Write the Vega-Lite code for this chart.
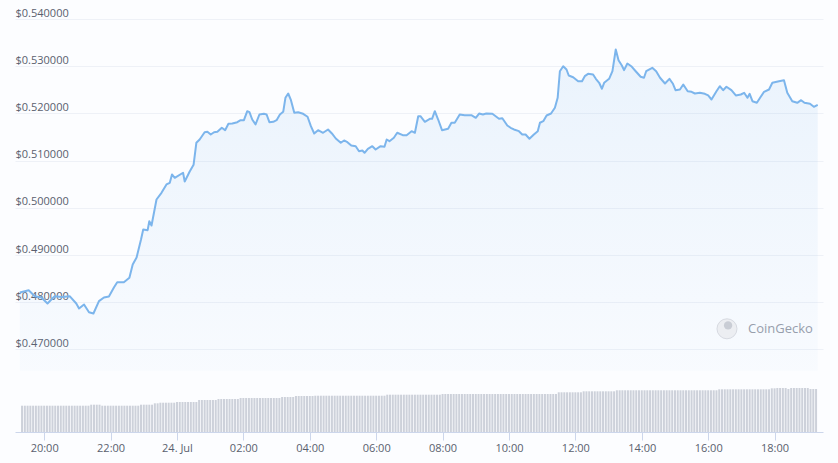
{
  "$schema": "https://vega.github.io/schema/vega-lite/v6.json",
  "width": 808,
  "height": 413,
  "autosize": {"type": "none"},
  "padding": {"left": 15, "top": 19, "right": 15, "bottom": 31},
  "background": "#fcfdff",
  "config": {"view": {"stroke": null}, "font": "Open Sans"},
  "datasets": {
    "price": [
      {"t":"2023-07-23T19:16Z","p":0.48207},{"t":"2023-07-23T19:25Z","p":0.48235},{"t":"2023-07-23T19:32Z","p":0.48256},{"t":"2023-07-23T19:43Z","p":0.48129},{"t":"2023-07-23T19:55Z","p":0.48101},{"t":"2023-07-23T20:06Z","p":0.47974},{"t":"2023-07-23T20:13Z","p":0.48059},{"t":"2023-07-23T20:19Z","p":0.48129},{"t":"2023-07-23T20:32Z","p":0.4811},{"t":"2023-07-23T20:46Z","p":0.48129},{"t":"2023-07-23T20:58Z","p":0.47974},{"t":"2023-07-23T21:03Z","p":0.47868},{"t":"2023-07-23T21:12Z","p":0.47953},{"t":"2023-07-23T21:21Z","p":0.4779},{"t":"2023-07-23T21:29Z","p":0.47762},{"t":"2023-07-23T21:39Z","p":0.48023},{"t":"2023-07-23T21:48Z","p":0.48101},{"t":"2023-07-23T21:57Z","p":0.48123},{"t":"2023-07-23T22:06Z","p":0.48313},{"t":"2023-07-23T22:12Z","p":0.48425},{"t":"2023-07-23T22:24Z","p":0.48425},{"t":"2023-07-23T22:34Z","p":0.48519},{"t":"2023-07-23T22:40Z","p":0.488},{"t":"2023-07-23T22:47Z","p":0.48949},{"t":"2023-07-23T22:55Z","p":0.4933},{"t":"2023-07-23T22:59Z","p":0.49542},{"t":"2023-07-23T23:07Z","p":0.49527},{"t":"2023-07-23T23:10Z","p":0.49717},{"t":"2023-07-23T23:14Z","p":0.49626},{"t":"2023-07-23T23:23Z","p":0.50177},{"t":"2023-07-23T23:32Z","p":0.50319},{"t":"2023-07-23T23:41Z","p":0.50495},{"t":"2023-07-23T23:47Z","p":0.50531},{"t":"2023-07-23T23:51Z","p":0.50707},{"t":"2023-07-23T23:56Z","p":0.50637},
      {"t":"2023-07-24T00:11Z","p":0.50743},{"t":"2023-07-24T00:14Z","p":0.50558},{"t":"2023-07-24T00:23Z","p":0.5077},{"t":"2023-07-24T00:30Z","p":0.50912},{"t":"2023-07-24T00:35Z","p":0.51378},{"t":"2023-07-24T00:41Z","p":0.51448},{"t":"2023-07-24T00:50Z","p":0.51602},{"t":"2023-07-24T00:55Z","p":0.51611},{"t":"2023-07-24T01:01Z","p":0.51554},{"t":"2023-07-24T01:07Z","p":0.51602},{"t":"2023-07-24T01:13Z","p":0.51611},{"t":"2023-07-24T01:21Z","p":0.51696},{"t":"2023-07-24T01:27Z","p":0.51645},{"t":"2023-07-24T01:33Z","p":0.5178},{"t":"2023-07-24T01:40Z","p":0.51787},{"t":"2023-07-24T01:49Z","p":0.51814},{"t":"2023-07-24T01:55Z","p":0.51857},{"t":"2023-07-24T02:01Z","p":0.51857},{"t":"2023-07-24T02:07Z","p":0.52047},{"t":"2023-07-24T02:11Z","p":0.52026},{"t":"2023-07-24T02:16Z","p":0.51871},{"t":"2023-07-24T02:22Z","p":0.51766},{"t":"2023-07-24T02:29Z","p":0.51977},{"t":"2023-07-24T02:37Z","p":0.51992},{"t":"2023-07-24T02:42Z","p":0.51977},{"t":"2023-07-24T02:47Z","p":0.51814},{"t":"2023-07-24T02:54Z","p":0.51823},{"t":"2023-07-24T03:00Z","p":0.51857},{"t":"2023-07-24T03:06Z","p":0.51977},{"t":"2023-07-24T03:12Z","p":0.52034},{"t":"2023-07-24T03:16Z","p":0.52331},{"t":"2023-07-24T03:21Z","p":0.52422},{"t":"2023-07-24T03:26Z","p":0.5228},{"t":"2023-07-24T03:32Z","p":0.52013},{"t":"2023-07-24T03:39Z","p":0.52026},{"t":"2023-07-24T03:48Z","p":0.51992},{"t":"2023-07-24T03:56Z","p":0.51929},{"t":"2023-07-24T04:02Z","p":0.5173},{"t":"2023-07-24T04:08Z","p":0.51575},{"t":"2023-07-24T04:15Z","p":0.51645},{"t":"2023-07-24T04:24Z","p":0.5159},{"t":"2023-07-24T04:33Z","p":0.5166},{"t":"2023-07-24T04:40Z","p":0.51575},{"t":"2023-07-24T04:47Z","p":0.51469},{"t":"2023-07-24T04:56Z","p":0.51378},{"t":"2023-07-24T05:02Z","p":0.51427},{"t":"2023-07-24T05:08Z","p":0.51391},{"t":"2023-07-24T05:15Z","p":0.51321},{"t":"2023-07-24T05:23Z","p":0.51306},{"t":"2023-07-24T05:29Z","p":0.512},{"t":"2023-07-24T05:35Z","p":0.51215},{"t":"2023-07-24T05:39Z","p":0.51166},{"t":"2023-07-24T05:45Z","p":0.51251},{"t":"2023-07-24T05:53Z","p":0.51306},{"t":"2023-07-24T05:59Z","p":0.51236},{"t":"2023-07-24T06:08Z","p":0.51306},{"t":"2023-07-24T06:15Z","p":0.51293},{"t":"2023-07-24T06:19Z","p":0.51448},{"t":"2023-07-24T06:24Z","p":0.51412},{"t":"2023-07-24T06:32Z","p":0.51484},{"t":"2023-07-24T06:38Z","p":0.5159},{"t":"2023-07-24T06:48Z","p":0.51539},{"t":"2023-07-24T06:55Z","p":0.51539},{"t":"2023-07-24T07:04Z","p":0.51624},{"t":"2023-07-24T07:10Z","p":0.5159},{"t":"2023-07-24T07:16Z","p":0.51941},{"t":"2023-07-24T07:20Z","p":0.51941},{"t":"2023-07-24T07:28Z","p":0.51823},{"t":"2023-07-24T07:37Z","p":0.51886},{"t":"2023-07-24T07:41Z","p":0.51886},{"t":"2023-07-24T07:46Z","p":0.52047},{"t":"2023-07-24T07:52Z","p":0.51871},{"t":"2023-07-24T07:59Z","p":0.51645},{"t":"2023-07-24T08:10Z","p":0.51674},{"t":"2023-07-24T08:16Z","p":0.51802},{"t":"2023-07-24T08:22Z","p":0.51802},{"t":"2023-07-24T08:31Z","p":0.51977},{"t":"2023-07-24T08:40Z","p":0.51963},{"t":"2023-07-24T08:52Z","p":0.51963},{"t":"2023-07-24T09:00Z","p":0.51907},{"t":"2023-07-24T09:06Z","p":0.51998},{"t":"2023-07-24T09:13Z","p":0.51977},{"t":"2023-07-24T09:19Z","p":0.51998},{"t":"2023-07-24T09:30Z","p":0.51992},{"t":"2023-07-24T09:42Z","p":0.51886},{"t":"2023-07-24T09:48Z","p":0.51899},{"t":"2023-07-24T09:57Z","p":0.51744},{"t":"2023-07-24T10:03Z","p":0.51696},{"t":"2023-07-24T10:09Z","p":0.5166},{"t":"2023-07-24T10:18Z","p":0.51624},{"t":"2023-07-24T10:24Z","p":0.51554},{"t":"2023-07-24T10:30Z","p":0.51554},{"t":"2023-07-24T10:37Z","p":0.51463},{"t":"2023-07-24T10:45Z","p":0.51554},{"t":"2023-07-24T10:52Z","p":0.51624},{"t":"2023-07-24T10:56Z","p":0.51802},{"t":"2023-07-24T11:02Z","p":0.51835},{"t":"2023-07-24T11:08Z","p":0.51956},{"t":"2023-07-24T11:16Z","p":0.51998},{"t":"2023-07-24T11:23Z","p":0.52119},{"t":"2023-07-24T11:28Z","p":0.52331},{"t":"2023-07-24T11:32Z","p":0.52894},{"t":"2023-07-24T11:38Z","p":0.53},{"t":"2023-07-24T11:44Z","p":0.5293},{"t":"2023-07-24T11:48Z","p":0.52803},{"t":"2023-07-24T11:56Z","p":0.52767},{"t":"2023-07-24T12:05Z","p":0.52683},{"t":"2023-07-24T12:12Z","p":0.52683},{"t":"2023-07-24T12:17Z","p":0.52789},{"t":"2023-07-24T12:23Z","p":0.52839},{"t":"2023-07-24T12:32Z","p":0.52825},{"t":"2023-07-24T12:37Z","p":0.52733},{"t":"2023-07-24T12:43Z","p":0.52649},{"t":"2023-07-24T12:48Z","p":0.52522},{"t":"2023-07-24T12:52Z","p":0.52649},{"t":"2023-07-24T13:01Z","p":0.52733},{"t":"2023-07-24T13:07Z","p":0.52894},{"t":"2023-07-24T13:13Z","p":0.53354},{"t":"2023-07-24T13:18Z","p":0.53127},{"t":"2023-07-24T13:24Z","p":0.53015},{"t":"2023-07-24T13:28Z","p":0.52916},{"t":"2023-07-24T13:34Z","p":0.53057},{"t":"2023-07-24T13:41Z","p":0.53},{"t":"2023-07-24T13:49Z","p":0.52894},{"t":"2023-07-24T13:58Z","p":0.52776},{"t":"2023-07-24T14:04Z","p":0.52755},{"t":"2023-07-24T14:08Z","p":0.52894},{"t":"2023-07-24T14:19Z","p":0.52966},{"t":"2023-07-24T14:26Z","p":0.52894},{"t":"2023-07-24T14:33Z","p":0.52755},{"t":"2023-07-24T14:42Z","p":0.52634},{"t":"2023-07-24T14:50Z","p":0.52733},{"t":"2023-07-24T14:56Z","p":0.52634},{"t":"2023-07-24T15:01Z","p":0.52492},{"t":"2023-07-24T15:09Z","p":0.52507},{"t":"2023-07-24T15:15Z","p":0.52613},{"t":"2023-07-24T15:23Z","p":0.52471},{"t":"2023-07-24T15:30Z","p":0.52458},{"t":"2023-07-24T15:36Z","p":0.52422},{"t":"2023-07-24T15:45Z","p":0.52437},{"t":"2023-07-24T15:54Z","p":0.52416},{"t":"2023-07-24T16:00Z","p":0.5238},{"t":"2023-07-24T16:06Z","p":0.52295},{"t":"2023-07-24T16:15Z","p":0.52471},{"t":"2023-07-24T16:21Z","p":0.52577},{"t":"2023-07-24T16:27Z","p":0.52492},{"t":"2023-07-24T16:33Z","p":0.52564},{"t":"2023-07-24T16:42Z","p":0.52492},{"t":"2023-07-24T16:50Z","p":0.5238},{"t":"2023-07-24T16:59Z","p":0.52401},{"t":"2023-07-24T17:05Z","p":0.52437},{"t":"2023-07-24T17:11Z","p":0.52331},{"t":"2023-07-24T17:15Z","p":0.52416},{"t":"2023-07-24T17:20Z","p":0.52259},{"t":"2023-07-24T17:28Z","p":0.52225},{"t":"2023-07-24T17:35Z","p":0.52352},{"t":"2023-07-24T17:41Z","p":0.52458},{"t":"2023-07-24T17:50Z","p":0.52507},{"t":"2023-07-24T17:56Z","p":0.52649},{"t":"2023-07-24T18:08Z","p":0.52683},{"t":"2023-07-24T18:17Z","p":0.52704},{"t":"2023-07-24T18:23Z","p":0.52437},{"t":"2023-07-24T18:32Z","p":0.52259},{"t":"2023-07-24T18:41Z","p":0.52225},{"t":"2023-07-24T18:48Z","p":0.5228},{"t":"2023-07-24T18:54Z","p":0.52225},{"t":"2023-07-24T19:04Z","p":0.52204},{"t":"2023-07-24T19:11Z","p":0.5214},{"t":"2023-07-24T19:18Z","p":0.52183}
    ],
    "vol": [
      {"t":"2023-07-23T19:20Z","v":95.5},{"t":"2023-07-23T19:25Z","v":95.5},{"t":"2023-07-23T19:30Z","v":95.5},{"t":"2023-07-23T19:35Z","v":95.5},{"t":"2023-07-23T19:40Z","v":95.5},{"t":"2023-07-23T19:45Z","v":95.5},{"t":"2023-07-23T19:50Z","v":95.5},{"t":"2023-07-23T19:55Z","v":95.5},
      {"t":"2023-07-23T20:00Z","v":95.5},{"t":"2023-07-23T20:05Z","v":95.5},{"t":"2023-07-23T20:10Z","v":95.5},{"t":"2023-07-23T20:15Z","v":95.5},{"t":"2023-07-23T20:20Z","v":95.5},{"t":"2023-07-23T20:25Z","v":95.5},{"t":"2023-07-23T20:30Z","v":95.5},{"t":"2023-07-23T20:35Z","v":95.5},{"t":"2023-07-23T20:40Z","v":95.5},{"t":"2023-07-23T20:45Z","v":95.5},{"t":"2023-07-23T20:50Z","v":95.5},{"t":"2023-07-23T20:55Z","v":95.5},
      {"t":"2023-07-23T21:00Z","v":95.5},{"t":"2023-07-23T21:05Z","v":95.5},{"t":"2023-07-23T21:10Z","v":95.5},{"t":"2023-07-23T21:15Z","v":95.5},{"t":"2023-07-23T21:20Z","v":95.5},{"t":"2023-07-23T21:25Z","v":99.2},{"t":"2023-07-23T21:30Z","v":99.2},{"t":"2023-07-23T21:35Z","v":99.2},{"t":"2023-07-23T21:40Z","v":99.2},{"t":"2023-07-23T21:45Z","v":95.5},{"t":"2023-07-23T21:50Z","v":95.5},{"t":"2023-07-23T21:55Z","v":95.5},
      {"t":"2023-07-23T22:00Z","v":95.5},{"t":"2023-07-23T22:05Z","v":95.5},{"t":"2023-07-23T22:10Z","v":95.5},{"t":"2023-07-23T22:15Z","v":95.5},{"t":"2023-07-23T22:20Z","v":95.5},{"t":"2023-07-23T22:25Z","v":95.5},{"t":"2023-07-23T22:30Z","v":95.5},{"t":"2023-07-23T22:35Z","v":95.5},{"t":"2023-07-23T22:40Z","v":95.5},{"t":"2023-07-23T22:45Z","v":95.5},{"t":"2023-07-23T22:50Z","v":95.5},{"t":"2023-07-23T22:55Z","v":99.2},
      {"t":"2023-07-23T23:00Z","v":99.2},{"t":"2023-07-23T23:05Z","v":99.2},{"t":"2023-07-23T23:10Z","v":99.2},{"t":"2023-07-23T23:15Z","v":99.2},{"t":"2023-07-23T23:20Z","v":104.2},{"t":"2023-07-23T23:25Z","v":104.2},{"t":"2023-07-23T23:30Z","v":106.4},{"t":"2023-07-23T23:35Z","v":106.4},{"t":"2023-07-23T23:40Z","v":106.4},{"t":"2023-07-23T23:45Z","v":106.4},{"t":"2023-07-23T23:50Z","v":106.4},{"t":"2023-07-23T23:55Z","v":106.4},
      {"t":"2023-07-24T00:00Z","v":109},{"t":"2023-07-24T00:05Z","v":109},{"t":"2023-07-24T00:10Z","v":109},{"t":"2023-07-24T00:15Z","v":109},{"t":"2023-07-24T00:20Z","v":109},{"t":"2023-07-24T00:25Z","v":109},{"t":"2023-07-24T00:30Z","v":109},{"t":"2023-07-24T00:35Z","v":109},{"t":"2023-07-24T00:40Z","v":116.2},{"t":"2023-07-24T00:45Z","v":116.2},{"t":"2023-07-24T00:50Z","v":116.2},{"t":"2023-07-24T00:55Z","v":116.2},
      {"t":"2023-07-24T01:00Z","v":116.2},{"t":"2023-07-24T01:05Z","v":116.2},{"t":"2023-07-24T01:10Z","v":116.2},{"t":"2023-07-24T01:15Z","v":119.9},{"t":"2023-07-24T01:20Z","v":119.9},{"t":"2023-07-24T01:25Z","v":119.9},{"t":"2023-07-24T01:30Z","v":119.9},{"t":"2023-07-24T01:35Z","v":119.9},{"t":"2023-07-24T01:40Z","v":119.9},{"t":"2023-07-24T01:45Z","v":119.9},{"t":"2023-07-24T01:50Z","v":119.9},{"t":"2023-07-24T01:55Z","v":123.5},
      {"t":"2023-07-24T02:00Z","v":123.5},{"t":"2023-07-24T02:05Z","v":123.5},{"t":"2023-07-24T02:10Z","v":123.5},{"t":"2023-07-24T02:15Z","v":123.5},{"t":"2023-07-24T02:20Z","v":123.5},{"t":"2023-07-24T02:25Z","v":123.5},{"t":"2023-07-24T02:30Z","v":123.5},{"t":"2023-07-24T02:35Z","v":123.5},{"t":"2023-07-24T02:40Z","v":123.5},{"t":"2023-07-24T02:45Z","v":123.5},{"t":"2023-07-24T02:50Z","v":123.5},{"t":"2023-07-24T02:55Z","v":123.5},
      {"t":"2023-07-24T03:00Z","v":123.5},{"t":"2023-07-24T03:05Z","v":123.5},{"t":"2023-07-24T03:10Z","v":127.1},{"t":"2023-07-24T03:15Z","v":127.1},{"t":"2023-07-24T03:20Z","v":127.1},{"t":"2023-07-24T03:25Z","v":127.1},{"t":"2023-07-24T03:30Z","v":127.1},{"t":"2023-07-24T03:35Z","v":130.8},{"t":"2023-07-24T03:40Z","v":130.8},{"t":"2023-07-24T03:45Z","v":130.8},{"t":"2023-07-24T03:50Z","v":130.8},{"t":"2023-07-24T03:55Z","v":130.8},
      {"t":"2023-07-24T04:00Z","v":130.8},{"t":"2023-07-24T04:05Z","v":130.8},{"t":"2023-07-24T04:10Z","v":131.8},{"t":"2023-07-24T04:15Z","v":131.8},{"t":"2023-07-24T04:20Z","v":131.8},{"t":"2023-07-24T04:25Z","v":131.8},{"t":"2023-07-24T04:30Z","v":131.8},{"t":"2023-07-24T04:35Z","v":131.8},{"t":"2023-07-24T04:40Z","v":131.8},{"t":"2023-07-24T04:45Z","v":131.8},{"t":"2023-07-24T04:50Z","v":131.8},{"t":"2023-07-24T04:55Z","v":131.8},
      {"t":"2023-07-24T05:00Z","v":131.8},{"t":"2023-07-24T05:05Z","v":131.8},{"t":"2023-07-24T05:10Z","v":131.8},{"t":"2023-07-24T05:15Z","v":131.8},{"t":"2023-07-24T05:20Z","v":131.8},{"t":"2023-07-24T05:25Z","v":131.8},{"t":"2023-07-24T05:30Z","v":131.8},{"t":"2023-07-24T05:35Z","v":131.8},{"t":"2023-07-24T05:40Z","v":131.8},{"t":"2023-07-24T05:45Z","v":131.8},{"t":"2023-07-24T05:50Z","v":131.8},{"t":"2023-07-24T05:55Z","v":131.8},
      {"t":"2023-07-24T06:00Z","v":131.8},{"t":"2023-07-24T06:05Z","v":131.8},{"t":"2023-07-24T06:10Z","v":131.8},{"t":"2023-07-24T06:15Z","v":131.8},{"t":"2023-07-24T06:20Z","v":135.5},{"t":"2023-07-24T06:25Z","v":135.5},{"t":"2023-07-24T06:30Z","v":135.5},{"t":"2023-07-24T06:35Z","v":135.5},{"t":"2023-07-24T06:40Z","v":135.5},{"t":"2023-07-24T06:45Z","v":135.5},{"t":"2023-07-24T06:50Z","v":135.5},{"t":"2023-07-24T06:55Z","v":135.5},
      {"t":"2023-07-24T07:00Z","v":135.5},{"t":"2023-07-24T07:05Z","v":135.5},{"t":"2023-07-24T07:10Z","v":135.5},{"t":"2023-07-24T07:15Z","v":135.5},{"t":"2023-07-24T07:20Z","v":135.5},{"t":"2023-07-24T07:25Z","v":135.5},{"t":"2023-07-24T07:30Z","v":135.5},{"t":"2023-07-24T07:35Z","v":135.5},{"t":"2023-07-24T07:40Z","v":135.5},{"t":"2023-07-24T07:45Z","v":135.5},{"t":"2023-07-24T07:50Z","v":135.5},{"t":"2023-07-24T07:55Z","v":135.5},
      {"t":"2023-07-24T08:00Z","v":138},{"t":"2023-07-24T08:05Z","v":138},{"t":"2023-07-24T08:10Z","v":138},{"t":"2023-07-24T08:15Z","v":138},{"t":"2023-07-24T08:20Z","v":138},{"t":"2023-07-24T08:25Z","v":138},{"t":"2023-07-24T08:30Z","v":138},{"t":"2023-07-24T08:35Z","v":138},{"t":"2023-07-24T08:40Z","v":138},{"t":"2023-07-24T08:45Z","v":138},{"t":"2023-07-24T08:50Z","v":138},{"t":"2023-07-24T08:55Z","v":138},
      {"t":"2023-07-24T09:00Z","v":138},{"t":"2023-07-24T09:05Z","v":138},{"t":"2023-07-24T09:10Z","v":138},{"t":"2023-07-24T09:15Z","v":138},{"t":"2023-07-24T09:20Z","v":138},{"t":"2023-07-24T09:25Z","v":138},{"t":"2023-07-24T09:30Z","v":138},{"t":"2023-07-24T09:35Z","v":138},{"t":"2023-07-24T09:40Z","v":138},{"t":"2023-07-24T09:45Z","v":138},{"t":"2023-07-24T09:50Z","v":138},{"t":"2023-07-24T09:55Z","v":138},
      {"t":"2023-07-24T10:00Z","v":138},{"t":"2023-07-24T10:05Z","v":138},{"t":"2023-07-24T10:10Z","v":138},{"t":"2023-07-24T10:15Z","v":138},{"t":"2023-07-24T10:20Z","v":138},{"t":"2023-07-24T10:25Z","v":138},{"t":"2023-07-24T10:30Z","v":138},{"t":"2023-07-24T10:35Z","v":138},{"t":"2023-07-24T10:40Z","v":138},{"t":"2023-07-24T10:45Z","v":138},{"t":"2023-07-24T10:50Z","v":138},{"t":"2023-07-24T10:55Z","v":138},
      {"t":"2023-07-24T11:00Z","v":138},{"t":"2023-07-24T11:05Z","v":138},{"t":"2023-07-24T11:10Z","v":138},{"t":"2023-07-24T11:15Z","v":138},{"t":"2023-07-24T11:20Z","v":138},{"t":"2023-07-24T11:25Z","v":138},{"t":"2023-07-24T11:30Z","v":144.2},{"t":"2023-07-24T11:35Z","v":144.2},{"t":"2023-07-24T11:40Z","v":144.2},{"t":"2023-07-24T11:45Z","v":144.2},{"t":"2023-07-24T11:50Z","v":144.2},{"t":"2023-07-24T11:55Z","v":144.2},
      {"t":"2023-07-24T12:00Z","v":144.2},{"t":"2023-07-24T12:05Z","v":144.2},{"t":"2023-07-24T12:10Z","v":144.2},{"t":"2023-07-24T12:15Z","v":147.8},{"t":"2023-07-24T12:20Z","v":147.8},{"t":"2023-07-24T12:25Z","v":147.8},{"t":"2023-07-24T12:30Z","v":147.8},{"t":"2023-07-24T12:35Z","v":147.8},{"t":"2023-07-24T12:40Z","v":147.8},{"t":"2023-07-24T12:45Z","v":147.8},{"t":"2023-07-24T12:50Z","v":147.8},{"t":"2023-07-24T12:55Z","v":147.8},
      {"t":"2023-07-24T13:00Z","v":147.8},{"t":"2023-07-24T13:05Z","v":147.8},{"t":"2023-07-24T13:10Z","v":147.8},{"t":"2023-07-24T13:15Z","v":151.5},{"t":"2023-07-24T13:20Z","v":151.5},{"t":"2023-07-24T13:25Z","v":151.5},{"t":"2023-07-24T13:30Z","v":151.5},{"t":"2023-07-24T13:35Z","v":151.5},{"t":"2023-07-24T13:40Z","v":151.5},{"t":"2023-07-24T13:45Z","v":151.5},{"t":"2023-07-24T13:50Z","v":151.5},{"t":"2023-07-24T13:55Z","v":151.5},
      {"t":"2023-07-24T14:00Z","v":151.5},{"t":"2023-07-24T14:05Z","v":151.5},{"t":"2023-07-24T14:10Z","v":151.5},{"t":"2023-07-24T14:15Z","v":151.5},{"t":"2023-07-24T14:20Z","v":151.5},{"t":"2023-07-24T14:25Z","v":151.5},{"t":"2023-07-24T14:30Z","v":151.5},{"t":"2023-07-24T14:35Z","v":151.5},{"t":"2023-07-24T14:40Z","v":151.5},{"t":"2023-07-24T14:45Z","v":151.5},{"t":"2023-07-24T14:50Z","v":151.5},{"t":"2023-07-24T14:55Z","v":151.5},
      {"t":"2023-07-24T15:00Z","v":151.5},{"t":"2023-07-24T15:05Z","v":151.5},{"t":"2023-07-24T15:10Z","v":151.5},{"t":"2023-07-24T15:15Z","v":151.5},{"t":"2023-07-24T15:20Z","v":151.5},{"t":"2023-07-24T15:25Z","v":151.5},{"t":"2023-07-24T15:30Z","v":151.5},{"t":"2023-07-24T15:35Z","v":151.5},{"t":"2023-07-24T15:40Z","v":151.5},{"t":"2023-07-24T15:45Z","v":151.5},{"t":"2023-07-24T15:50Z","v":151.5},{"t":"2023-07-24T15:55Z","v":151.5},
      {"t":"2023-07-24T16:00Z","v":151.5},{"t":"2023-07-24T16:05Z","v":151.5},{"t":"2023-07-24T16:10Z","v":151.5},{"t":"2023-07-24T16:15Z","v":151.5},{"t":"2023-07-24T16:20Z","v":155.1},{"t":"2023-07-24T16:25Z","v":155.1},{"t":"2023-07-24T16:30Z","v":155.1},{"t":"2023-07-24T16:35Z","v":155.1},{"t":"2023-07-24T16:40Z","v":155.1},{"t":"2023-07-24T16:45Z","v":155.1},{"t":"2023-07-24T16:50Z","v":155.1},{"t":"2023-07-24T16:55Z","v":155.1},
      {"t":"2023-07-24T17:00Z","v":155.1},{"t":"2023-07-24T17:05Z","v":155.1},{"t":"2023-07-24T17:10Z","v":155.1},{"t":"2023-07-24T17:15Z","v":155.1},{"t":"2023-07-24T17:20Z","v":155.1},{"t":"2023-07-24T17:25Z","v":155.1},{"t":"2023-07-24T17:30Z","v":155.1},{"t":"2023-07-24T17:35Z","v":155.1},{"t":"2023-07-24T17:40Z","v":155.1},{"t":"2023-07-24T17:45Z","v":155.1},{"t":"2023-07-24T17:50Z","v":155.1},{"t":"2023-07-24T17:55Z","v":158.7},
      {"t":"2023-07-24T18:00Z","v":158.7},{"t":"2023-07-24T18:05Z","v":159.8},{"t":"2023-07-24T18:10Z","v":159.8},{"t":"2023-07-24T18:15Z","v":159.8},{"t":"2023-07-24T18:20Z","v":159.8},{"t":"2023-07-24T18:25Z","v":156.2},{"t":"2023-07-24T18:30Z","v":159.8},{"t":"2023-07-24T18:35Z","v":159.8},{"t":"2023-07-24T18:40Z","v":159.8},{"t":"2023-07-24T18:45Z","v":159.8},{"t":"2023-07-24T18:50Z","v":159.8},{"t":"2023-07-24T18:55Z","v":159.8},
      {"t":"2023-07-24T19:00Z","v":159.8},{"t":"2023-07-24T19:05Z","v":156.2},{"t":"2023-07-24T19:10Z","v":156.2},{"t":"2023-07-24T19:15Z","v":156.2}
    ]
  },
  "resolve": {"scale": {"y": "independent"}, "axis": {"y": "independent"}},
  "layer": [
    {
      "data": {"name": "vol"},
      "mark": {"type": "bar", "width": 2, "color": "#cdd1da"},
      "encoding": {
        "x": {"field": "t", "type": "temporal", "scale": {"type": "utc", "domain": [{"year": 2023, "month": 7, "date": 23, "hours": 19, "minutes": 16, "seconds": 18, "utc": true}, {"year": 2023, "month": 7, "date": 24, "hours": 19, "minutes": 18, "seconds": 30, "utc": true}]}, "axis": {
          "title": null,
          "values": [
            {"year": 2023, "month": 7, "date": 23, "hours": 20, "utc": true},
            {"year": 2023, "month": 7, "date": 23, "hours": 22, "utc": true},
            {"year": 2023, "month": 7, "date": 24, "hours": 0, "utc": true},
            {"year": 2023, "month": 7, "date": 24, "hours": 2, "utc": true},
            {"year": 2023, "month": 7, "date": 24, "hours": 4, "utc": true},
            {"year": 2023, "month": 7, "date": 24, "hours": 6, "utc": true},
            {"year": 2023, "month": 7, "date": 24, "hours": 8, "utc": true},
            {"year": 2023, "month": 7, "date": 24, "hours": 10, "utc": true},
            {"year": 2023, "month": 7, "date": 24, "hours": 12, "utc": true},
            {"year": 2023, "month": 7, "date": 24, "hours": 14, "utc": true},
            {"year": 2023, "month": 7, "date": 24, "hours": 16, "utc": true},
            {"year": 2023, "month": 7, "date": 24, "hours": 18, "utc": true}
          ],
          "labelExpr": "utchours(datum.value) == 0 ? utcFormat(datum.value, '%d. %b') : utcFormat(datum.value, '%H:%M')",
          "grid": false,
          "domainColor": "#ccd6eb",
          "tickColor": "#ccd6eb",
          "tickSize": 8,
          "labelPadding": 2,
          "labelFont": "Open Sans",
          "labelFontSize": 11,
          "labelColor": "#5a5f6e",
          "labelFlush": false
        }},
        "y": {"field": "v", "type": "quantitative", "scale": {"domain": [0, 1500], "zero": true, "nice": false}, "axis": null}
      }
    },
    {
      "layer": [
        {
          "data": {"name": "price"},
          "mark": {"type": "area", "color": {"gradient": "linear", "x1": 0, "y1": 0, "x2": 0, "y2": 1, "stops": [{"offset": 0, "color": "rgba(124,181,236,0.14)"}, {"offset": 1, "color": "rgba(124,181,236,0.03)"}]}},
          "encoding": {
            "x": {"field": "t", "type": "temporal"},
            "y": {"field": "p", "type": "quantitative", "scale": {"domain": [0.45252, 0.54], "zero": false, "nice": false}, "axis": {
              "title": null,
              "values": [0.47, 0.48, 0.49, 0.5, 0.51, 0.52, 0.53, 0.54],
              "labelExpr": "'$' + format(datum.value, '.6f')",
              "grid": true,
              "gridColor": "#eef1f7",
              "gridWidth": 1,
              "domain": false,
              "ticks": false,
              "tickSize": 0,
              "labelPadding": 0,
              "labelAlign": "left",
              "labelBaseline": "alphabetic",
              "labelOffset": -3,
              "labelFont": "Open Sans",
              "labelFontSize": 11,
              "labelColor": "#5a5f6e"
            }},
            "y2": {"datum": 0.4655}
          }
        },
        {
          "data": {"name": "price"},
          "mark": {"type": "line", "color": "#7cb5ec", "strokeWidth": 2, "strokeJoin": "round"},
          "encoding": {
            "x": {"field": "t", "type": "temporal"},
            "y": {"field": "p", "type": "quantitative"}
          }
        },
        {
          "data": {"values": [{}]},
          "mark": {"type": "point", "shape": "circle", "filled": true, "size": 400, "fill": "#eceef2", "stroke": "#d7dae1", "strokeWidth": 1, "opacity": 1},
          "encoding": {
            "x": {"datum": {"year": 2023, "month": 7, "date": 24, "hours": 16, "minutes": 34, "utc": true}, "type": "temporal"},
            "y": {"datum": 0.47438, "type": "quantitative"}
          }
        },
        {
          "data": {"values": [{}]},
          "mark": {"type": "point", "shape": "circle", "filled": true, "size": 70, "fill": "#c9cdd5", "opacity": 1},
          "encoding": {
            "x": {"datum": {"year": 2023, "month": 7, "date": 24, "hours": 16, "minutes": 36, "utc": true}, "type": "temporal"},
            "y": {"datum": 0.4751, "type": "quantitative"}
          }
        },
        {
          "data": {"values": [{}]},
          "mark": {"type": "text", "text": "CoinGecko", "align": "left", "baseline": "middle", "font": "Open Sans", "fontSize": 13, "color": "#979eac"},
          "encoding": {
            "x": {"datum": {"year": 2023, "month": 7, "date": 24, "hours": 17, "minutes": 12, "utc": true}, "type": "temporal"},
            "y": {"datum": 0.47438, "type": "quantitative"}
          }
        }
      ]
    }
  ]
}
